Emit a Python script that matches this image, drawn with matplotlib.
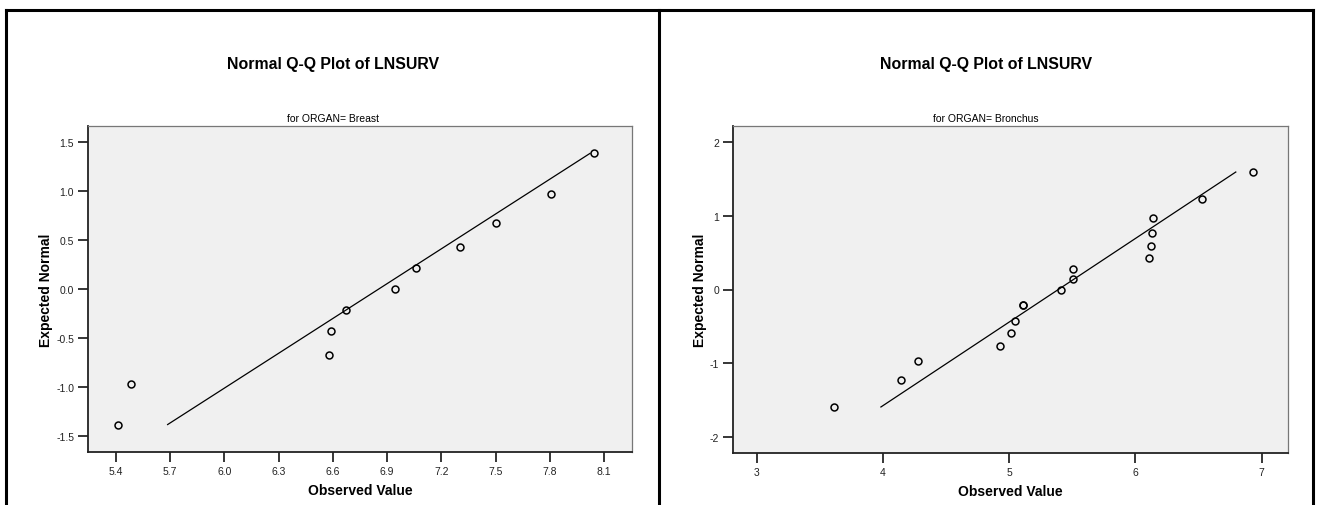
import numpy as np
import matplotlib.pyplot as plt
from matplotlib.lines import Line2D

plt.rcParams['font.family'] = ['Liberation Sans', 'DejaVu Sans']

# Breast: observed LNSURV and expected normal values
breast_obs = [5.412, 5.481, 6.578, 6.590, 6.673, 6.943, 7.062, 7.302, 7.500, 7.809, 8.042]
breast_exp = [-1.383, -0.967, -0.674, -0.431, -0.210, 0.0, 0.210, 0.431, 0.674, 0.967, 1.383]
breast_xticks = [5.4, 5.7, 6.0, 6.3, 6.6, 6.9, 7.2, 7.5, 7.8, 8.1]
breast_yticks = [-1.5, -1.0, -0.5, 0.0, 0.5, 1.0, 1.5]

# Bronchus (two tied values at 5.111)
bronchus_obs = [3.609, 4.141, 4.276, 4.926, 5.017, 5.044, 5.111, 5.111, 5.407, 5.502,
                5.508, 6.108, 6.125, 6.131, 6.141, 6.529, 6.933]
bronchus_exp = [-1.593, -1.221, -0.967, -0.765, -0.589, -0.431, -0.210, -0.210, 0.0, 0.140,
                0.282, 0.431, 0.589, 0.765, 0.967, 1.221, 1.593]
bronchus_xticks = [3, 4, 5, 6, 7]
bronchus_yticks = [-2, -1, 0, 1, 2]

W, H = 1319, 506
fig = plt.figure(figsize=(W / 100, H / 100), dpi=100)


def px_axes(x0, y0, x1, y1):
    # pixel box (top-left origin) -> figure fraction
    return fig.add_axes([x0 / W, 1 - y1 / H, (x1 - x0) / W, (y1 - y0) / H])


def qq_panel(ax, obs, exp, xticks, yticks, xlim, ylim, fmt, organ, cx, ypad):
    obs = np.array(obs)
    exp = np.array(exp)
    ax.set_facecolor('#f0f0f0')
    # reference line: mean + sd * z over the z range
    m, s = obs.mean(), obs.std(ddof=1)
    z = np.array([exp.min(), exp.max()])
    ax.plot(m + s * z, z, color='black', lw=0.9, zorder=2)
    ax.plot(obs, exp, 'o', mfc='none', mec='black', mew=1.1, ms=5, zorder=3)
    ax.set_xlim(*xlim)
    ax.set_ylim(*ylim)
    ax.set_xticks(xticks)
    ax.set_yticks(yticks)
    ax.set_xticklabels([fmt % v for v in xticks])
    ax.set_yticklabels([fmt % v for v in yticks])
    ax.tick_params(direction='out', length=7, width=1.1, labelsize=7.5,
                   colors='black', labelcolor='#222222', pad=3)
    for side in ['left', 'bottom']:
        ax.spines[side].set_color('#222222')
        ax.spines[side].set_linewidth(1.3)
    for side in ['top', 'right']:
        ax.spines[side].set_color('#777777')
        ax.spines[side].set_linewidth(0.9)
    ax.set_xlabel('Observed Value', fontsize=10, fontweight='bold', labelpad=5)
    ax.set_ylabel('Expected Normal', fontsize=10, fontweight='bold', labelpad=ypad)
    fig.text(cx / W, 1 - 65 / H, 'Normal Q-Q Plot of LNSURV', ha='center', va='center',
             fontsize=11.4, fontweight='bold')
    fig.text(cx / W, 1 - 119 / H, 'for ORGAN= ' + organ, ha='center', va='center',
             fontsize=7.5)


ax1 = px_axes(88, 127, 632, 453)
qq_panel(ax1, breast_obs, breast_exp, breast_xticks, breast_yticks,
         (5.245, 8.255), (-1.663, 1.663), '%.1f', 'Breast', 333, 2.5)

ax2 = px_axes(733, 127, 1288, 454)
qq_panel(ax2, bronchus_obs, bronchus_exp, bronchus_xticks, bronchus_yticks,
         (2.81, 7.21), (-2.217, 2.217), '%d', 'Bronchus', 986, 2)

# panel frames (open at the bottom)
def fline(xs, ys):
    fig.add_artist(Line2D([x / W for x in xs], [1 - y / H for y in ys],
                          color='black', lw=2.2, solid_capstyle='projecting'))

fline([6, 1313], [10.5, 10.5])
fline([6, 6], [10.5, 506])
fline([659, 659], [10.5, 506])
fline([1313, 1313], [10.5, 506])

fig.savefig('out.png', dpi=100)
